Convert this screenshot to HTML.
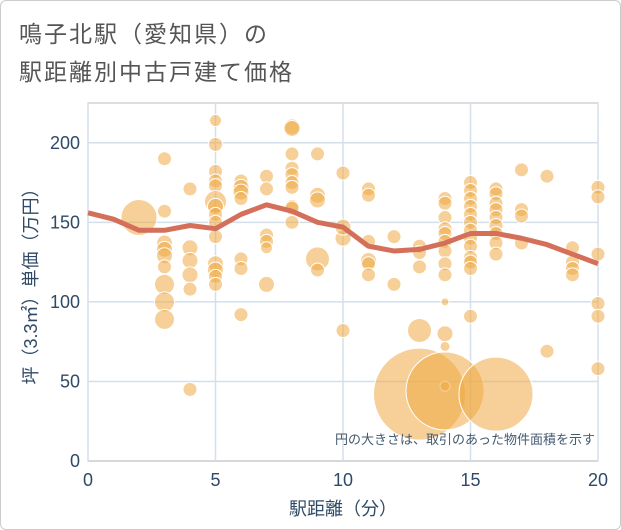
<!DOCTYPE html>
<html><head><meta charset="utf-8"><style>
body{margin:0;background:#fff;font-family:"Liberation Sans","Noto Sans CJK JP",sans-serif;}
#wrap{position:relative;width:619px;height:528px;border:1px solid #ccc;border-radius:6px;overflow:hidden;}
.title{position:absolute;left:18px;font-size:23px;color:#555;letter-spacing:2px;}
</style></head><body>
<div id="wrap">
<div class="title" style="top:14px">鳴子北駅（愛知県）の</div>
<div class="title" style="top:52px">駅距離別中古戸建て価格</div>
<svg id="chart" width="621" height="530" style="position:absolute;left:0;top:0"></svg>
</div>
<script>
const xs=[2,3,3,3,3,3,3,3,3,3,4,4,4,4,4,4,5,5,5,5,5,5,5,5,5,5,5,5,5,5,6,6,6,6,6,6,6,7,7,7,7,7,7,8,8,8,8,8,8,8,8,8,8,9,9,9,9,9,10,10,10,10,11,11,11,11,11,11,12,12,13,13,13,13,13,14,14,14,14,14,14,14,14,14,14,14,14,14,14,15,15,15,15,15,15,15,15,15,15,15,15,15,16,16,16,16,16,16,16,16,16,16,17,17,17,17,18,18,19,19,19,19,20,20,20,20,20,20];
const ys=[153,190,157,137,133,129,122,111,100,89,171,134,126,117,108,45,214,199,182,176,173,163,160,155,150,141,124,120,116,111,176,172,169,165,127,121,92,179,171,142,138,134,111,210,209,193,184,180,175,172,160,159,150,193,167,164,127,120,181,140,147,82,171,167,138,126,124,117,141,111,135,131,122,82,42,165,162,153,146,143,138,132,124,117,100,80,72,47,44,175,170,165,160,155,150,145,140,135,128,125,121,91,171,168,162,158,153,148,143,137,130,42,183,158,154,137,179,69,134,125,121,117,172,166,130,99,91,58];
const rs=[18,7,7,8,8,8,7,10,10,10,7,8,8,8,7,7,6,7,7,7,7,11,8,7,7,7,8,8,7,7,7,8,8,7,7,7,7,7,7,7,7,6,8,8,8,7,7,7,7,7,7,7,7,7,8,8,12,7,7,8,8,7,7,7,7,8,7,7,7,7,7,7,7,12,46,7,7,7,7,7,7,7,7,7,4,8,5,5,39,7,7,7,7,7,7,7,7,7,7,7,7,7,7,7,7,7,7,7,7,7,7,37,7,7,7,7,7,7,7,7,7,7,7,7,7,7,7,7];
const lineX=[0,1,2,3,4,5,6,7,8,9,10,11,12,13,14,15,16,17,18,19,20];
const lineY=[156,152,145,145,148,146,155,161,157,150,147,135,132,133,137,143,143,140,136,130,124];
const xTicks=[0,5,10,15,20];
const yTicks=[0,50,100,150,200];
const L=87,R=597,T=102,B=460;
const sx=v=>L+(v/20)*(R-L);
const sy=v=>B-(v/225)*(B-T);
const NS="http://www.w3.org/2000/svg";
const svg=document.getElementById('chart');
function mk(tag,a){const e=document.createElementNS(NS,tag);for(const k in a)e.setAttribute(k,a[k]);svg.appendChild(e);return e;}
const bg=mk('rect',{x:L,y:T,width:R-L,height:B-T,fill:'#fff',stroke:'#bbb'});


for(const t of yTicks){
 const g=mk('line',{x1:L,x2:R,y1:sy(t),y2:sy(t),stroke:t==0?'#ccc':'#d5dfe9','stroke-width':1.5});
 
 
 const tx=mk('text',{x:L-8,y:sy(t)+6,'text-anchor':'end','font-size':18,fill:'#2e4a66'});tx.textContent=t;
 
 
}
for(const t of xTicks){
 const g=mk('line',{x1:sx(t),x2:sx(t),y1:T,y2:B,stroke:'#d5dfe9','stroke-width':1.5});
 
 
 const tx=mk('text',{x:sx(t),y:B+25,'text-anchor':'middle','font-size':18,fill:'#2e4a66'});tx.textContent=t;
 
 
}
for(let i=0;i<xs.length;i++){
 const c=mk('circle',{cx:sx(xs[i]),cy:sy(ys[i]),r:rs[i],fill:'#eeaa44','fill-opacity':0.55,stroke:'#fff','stroke-width':1});
 
 
}
const p=mk('polyline',{points:lineX.map((x,i)=>sx(x)+','+sy(lineY[i])).join(' '),fill:'none',stroke:'#d4705a','stroke-width':5,'stroke-linejoin':'round'});


const note=mk('text',{x:594,y:443,'text-anchor':'end','font-size':13,fill:'#445a70'});note.textContent='円の大きさは、取引のあった物件面積を示す';


const xl=mk('text',{x:(L+R)/2,y:514,'text-anchor':'middle','font-size':18,fill:'#2e4a66'});xl.textContent='駅距離（分）';


const yl=mk('text',{x:0,y:0,'text-anchor':'middle','font-size':18,fill:'#2e4a66',transform:'translate(36,'+((T+B)/2)+') rotate(-90)'});yl.textContent='坪（3.3㎡）単価（万円）';


</script>
</body></html>
